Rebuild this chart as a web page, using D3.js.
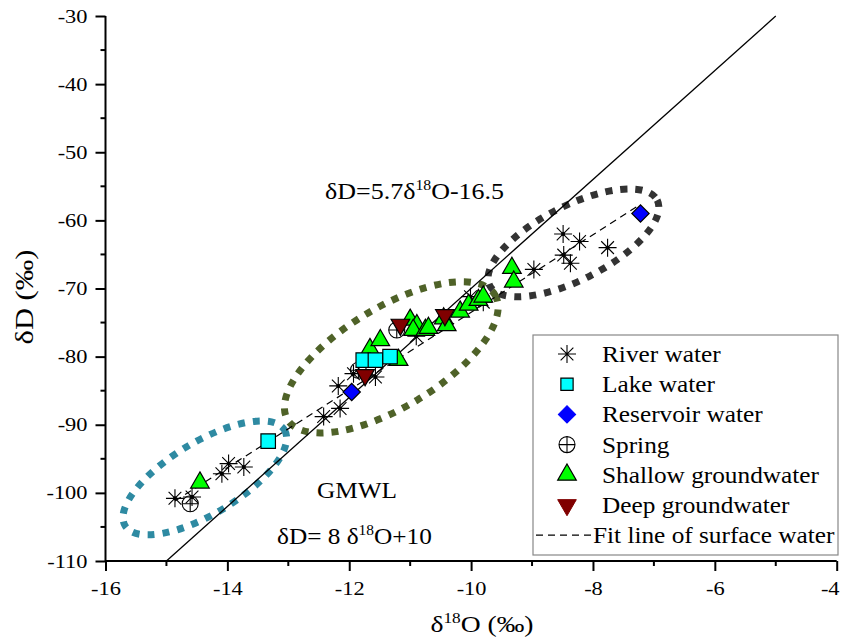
<!DOCTYPE html>
<html lang="en">
<head>
  <meta charset="UTF-8">
  <title>dD vs d18O</title>
  <script src="https://d3js.org/d3.v7.min.js"></script>
  <style>
    body { margin: 0; background: #fff; }
    svg text { font-family: 'Liberation Serif', 'Times New Roman', 'DejaVu Serif', serif !important; fill: #000; }
  </style>
</head>
<body>
  <script>
    "use strict";
    // samples: [d18O, dD]
    var riverWater = [
      [-14.86, -100.8], [-14.58, -100.6], [-14.09, -97.2], [-13.98, -95.7], [-13.73, -96.2],
      [-12.42, -88.8], [-12.15, -87.6], [-12.18, -84.3], [-11.93, -82.5], [-11.57, -83.0],
      [-10.9, -77.0], [-10.01, -71.2], [-9.8, -72.0],
      [-8.97, -67.2], [-8.49, -62.0], [-8.22, -63.1], [-8.48, -65.1], [-8.37, -66.3], [-7.76, -64.0]
    ];
    var lakeWater = [[-13.33, -92.4], [-11.77, -80.5], [-11.57, -80.5], [-11.33, -80.0]];
    var reservoirWater = [[-11.96, -85.2], [-7.22, -59.0]];
    var spring = [[-14.61, -101.6], [-11.85, -82.0], [-11.22, -76.1]];
    var shallowGroundwater = [
      [-14.45, -98.5], [-11.66, -78.9], [-11.49, -77.6], [-11.19, -80.5], [-11.0, -74.6],
      [-10.89, -75.4], [-10.95, -76.1], [-10.75, -76.1], [-10.7, -75.8], [-10.45, -74.4],
      [-10.4, -75.4], [-10.18, -73.4], [-10.04, -72.4], [-9.88, -71.7], [-9.8, -71.2],
      [-9.33, -67.0], [-9.3, -69.0]
    ];
    var deepGroundwater = [[-11.74, -82.7], [-11.16, -75.3], [-10.43, -73.9]];

    var xTicks = [-16, -14, -12, -10, -8, -6, -4];
    var yTicks = [-110, -100, -90, -80, -70, -60, -50, -40, -30];

    // GMWL dD = 8 d18O + 10 ; surface water fit dD = 5.7 d18O - 16.5
    var gmwl = { slope: 8, intercept: 10, from: -15, to: -5 };
    var fitLine = { slope: 5.7, intercept: -16.5, from: -14.86, to: -7.22 };

    // ellipses: center in data units, semi-axes in px, rotation in degrees
    var ellipses = [
      { cx: -14.37, cy: -97.8, rx: 93, ry: 36, angle: -31, color: "#2e8aa2" },
      { cx: -11.31, cy: -80.1, rx: 121, ry: 50, angle: -31, color: "#4f6228" },
      { cx: -8.32, cy: -63.3, rx: 94, ry: 37, angle: -27, color: "#333333" }
    ];

    var width = 845, height = 643;
    var serif = "'Liberation Serif', 'Times New Roman', 'DejaVu Serif', serif";
    var svg = d3.select("body").append("svg")
      .attr("width", width)
      .attr("height", height)
      .attr("font-family", serif);

    var x = d3.scaleLinear().domain([-16, -4]).range([105.5, 836.7]);
    var y = d3.scaleLinear().domain([-110, -30]).range([561, 16]);

    // the original type is a little wider than Times, stretch it horizontally
    function placeText(sel, px, py, k, rot) {
      return sel.attr("transform", "translate(" + px + "," + py + ")" +
        (rot ? " rotate(" + rot + ")" : "") + " scale(" + k + ",1)");
    }

    // ellipses
    svg.selectAll("ellipse.grp")
      .data(ellipses)
      .enter().append("ellipse")
      .attr("class", "grp")
      .attr("cx", 0).attr("cy", 0)
      .attr("rx", function (d) { return d.rx; })
      .attr("ry", function (d) { return d.ry; })
      .attr("transform", function (d) {
        return "translate(" + x(d.cx) + "," + y(d.cy) + ") rotate(" + d.angle + ")";
      })
      .attr("fill", "none")
      .attr("stroke", function (d) { return d.color; })
      .attr("stroke-width", 7)
      .attr("stroke-dasharray", "7,8");

    // lines
    function lineEnds(l) {
      return [[l.from, l.slope * l.from + l.intercept], [l.to, l.slope * l.to + l.intercept]];
    }
    var lineGen = d3.line()
      .x(function (d) { return x(d[0]); })
      .y(function (d) { return y(d[1]); });
    svg.append("path")
      .datum(lineEnds(gmwl))
      .attr("d", lineGen)
      .attr("fill", "none")
      .attr("stroke", "#000")
      .attr("stroke-width", 1.3);
    svg.append("path")
      .datum(lineEnds(fitLine))
      .attr("d", lineGen)
      .attr("fill", "none")
      .attr("stroke", "#000")
      .attr("stroke-width", 1.2)
      .attr("stroke-dasharray", "7,5");

    // markers
    var starPath = (function () {
      var r = 9, p = "";
      for (var i = 0; i < 4; i++) {
        var a = i * Math.PI / 4;
        var dx = r * Math.cos(a), dy = r * Math.sin(a);
        p += "M" + (-dx) + "," + (-dy) + "L" + dx + "," + dy;
      }
      return p;
    })();
    function drawStars(g, data) {
      var s = g.selectAll(null).data(data).enter().append("g")
        .attr("transform", function (d) { return "translate(" + x(d[0]) + "," + y(d[1]) + ")"; });
      s.append("path").attr("d", starPath).attr("stroke", "#000").attr("stroke-width", 1.1).attr("fill", "none");
      s.append("circle").attr("r", 2).attr("fill", "#000");
    }
    function drawSymbol(g, data, type, size, fill, rot) {
      g.selectAll(null).data(data).enter().append("path")
        .attr("d", d3.symbol().type(type).size(size))
        .attr("transform", function (d) {
          return "translate(" + x(d[0]) + "," + y(d[1]) + ")" + (rot ? " rotate(" + rot + ")" : "");
        })
        .attr("fill", fill)
        .attr("stroke", "#000")
        .attr("stroke-width", 1.2);
    }
    function drawSpring(g, data, r) {
      var s = g.selectAll(null).data(data).enter().append("g")
        .attr("transform", function (d) { return "translate(" + x(d[0]) + "," + y(d[1]) + ")"; });
      s.append("circle").attr("r", r).attr("fill", "none").attr("stroke", "#000").attr("stroke-width", 1.1);
      s.append("path").attr("d", "M" + (-r) + ",0H" + r + "M0," + (-r) + "V" + r)
        .attr("stroke", "#000").attr("stroke-width", 1.1);
    }

    var marks = svg.append("g");
    drawStars(marks, riverWater);
    drawSpring(marks, spring, 8);
    drawSymbol(marks, shallowGroundwater, d3.symbolTriangle, 150, "#00ff00", 0);
    drawSymbol(marks, deepGroundwater, d3.symbolTriangle, 150, "#800000", 180);
    drawSymbol(marks, lakeWater, d3.symbolSquare, 210, "#00ffff", 0);
    drawSymbol(marks, reservoirWater, d3.symbolSquare, 150, "#0000ff", 45);

    // axes (hyphen minus as in the original)
    var fmt = function (d) { return String(d); };
    var tickK = 1.18;
    var xAxis = svg.append("g").attr("transform", "translate(0," + y(-110) + ")")
      .call(d3.axisBottom(x).tickValues(xTicks).tickSize(10).tickPadding(11).tickFormat(fmt));
    xAxis.selectAll(".minor").data([-15, -13, -11, -9, -7, -5]).enter().append("line")
      .attr("class", "minor").attr("x1", x).attr("x2", x).attr("y1", 0).attr("y2", 5)
      .attr("stroke", "#000").attr("stroke-width", 2);
    var yAxis = svg.append("g").attr("transform", "translate(" + x(-16) + ",0)")
      .call(d3.axisLeft(y).tickValues(yTicks).tickSize(10).tickPadding(8).tickFormat(fmt));
    yAxis.selectAll(".minor").data([-105, -95, -85, -75, -65, -55, -45, -35]).enter().append("line")
      .attr("class", "minor").attr("y1", y).attr("y2", y).attr("x1", 0).attr("x2", -5)
      .attr("stroke", "#000").attr("stroke-width", 2);
    xAxis.select(".domain").attr("d", "M" + x(-16) + ",0H" + x(-4)).attr("stroke-width", 2);
    yAxis.select(".domain").attr("d", "M0," + y(-30) + "V" + y(-110)).attr("stroke-width", 2);
    svg.selectAll(".tick line").attr("stroke-width", 2);
    xAxis.attr("font-family", serif).attr("font-size", 19);
    yAxis.attr("font-family", serif).attr("font-size", 19);
    svg.selectAll(".tick text").attr("fill", "#000").attr("transform", "scale(" + tickK + ",1)");
    yAxis.selectAll(".tick text").attr("x", -18 / tickK);
    // last x label sits against the page edge
    xAxis.selectAll(".tick text").filter(function (d) { return d === -4; })
      .attr("text-anchor", "end").attr("x", 2);

    // axis titles
    var xt = placeText(svg.append("text"), 482, 632, 1.15)
      .attr("text-anchor", "middle").attr("font-size", 24);
    xt.append("tspan").text("δ");
    xt.append("tspan").attr("font-size", 15).attr("dy", -9).text("18");
    xt.append("tspan").attr("dy", 9).text("O (‰)");

    placeText(svg.append("text"), 33, 297, 1.22, -90)
      .attr("text-anchor", "middle").attr("font-size", 25)
      .text("δD (‰)");

    // annotations
    function deltaEq(xp, yp, k, pre, post) {
      var t = placeText(svg.append("text"), xp, yp, k).attr("font-size", 23);
      t.append("tspan").text(pre);
      t.append("tspan").attr("font-size", 14).attr("dy", -9).text("18");
      t.append("tspan").attr("dy", 9).text(post);
    }
    deltaEq(325, 199, 1.13, "δD=5.7δ", "O-16.5");
    placeText(svg.append("text"), 317, 498, 1.1).attr("font-size", 23).text("GMWL");
    deltaEq(277, 544, 1.1, "δD= 8 δ", "O+10");

    // legend
    var legendItems = ["River water", "Lake water", "Reservoir water", "Spring",
      "Shallow groundwater", "Deep groundwater"];
    var legendK = 1.1;
    var lg = svg.append("g");
    lg.append("rect").attr("x", 533).attr("y", 335).attr("width", 305).attr("height", 220)
      .attr("fill", "#fff").attr("stroke", "#888").attr("stroke-width", 1.2);
    var rowY = function (i) { return 354 + i * 30.2; };
    var sym = lg.append("g");
    var g0 = sym.append("g").attr("transform", "translate(567," + rowY(0) + ")");
    g0.append("path").attr("d", starPath).attr("stroke", "#000").attr("stroke-width", 1.1);
    sym.append("path").attr("d", d3.symbol().type(d3.symbolSquare).size(150))
      .attr("transform", "translate(567," + rowY(1) + ")")
      .attr("fill", "#00ffff").attr("stroke", "#000").attr("stroke-width", 1.2);
    sym.append("path").attr("d", d3.symbol().type(d3.symbolSquare).size(150))
      .attr("transform", "translate(567," + rowY(2) + ") rotate(45)")
      .attr("fill", "#0000ff").attr("stroke", "#0000ff");
    var g3 = sym.append("g").attr("transform", "translate(567," + rowY(3) + ")");
    g3.append("circle").attr("r", 8).attr("fill", "none").attr("stroke", "#000").attr("stroke-width", 1.1);
    g3.append("path").attr("d", "M-8,0H8M0,-8V8").attr("stroke", "#000").attr("stroke-width", 1.1);
    sym.append("path").attr("d", d3.symbol().type(d3.symbolTriangle).size(150))
      .attr("transform", "translate(567," + rowY(4) + ")")
      .attr("fill", "#00ff00").attr("stroke", "#000").attr("stroke-width", 1.2);
    sym.append("path").attr("d", d3.symbol().type(d3.symbolTriangle).size(150))
      .attr("transform", "translate(567," + rowY(5) + ") rotate(180)")
      .attr("fill", "#800000").attr("stroke", "#800000");
    lg.selectAll("text.item").data(legendItems).enter().append("text")
      .attr("class", "item")
      .attr("font-size", 23)
      .attr("transform", function (d, i) { return "translate(602," + (rowY(i) + 8) + ") scale(" + legendK + ",1)"; })
      .text(function (d) { return d; });
    lg.append("line").attr("x1", 536).attr("x2", 592).attr("y1", rowY(6)).attr("y2", rowY(6))
      .attr("stroke", "#000").attr("stroke-width", 1.2).attr("stroke-dasharray", "7,5");
    placeText(lg.append("text"), 593, rowY(6) + 8, legendK).attr("font-size", 23)
      .text("Fit line of surface water");
  </script>
</body>
</html>
